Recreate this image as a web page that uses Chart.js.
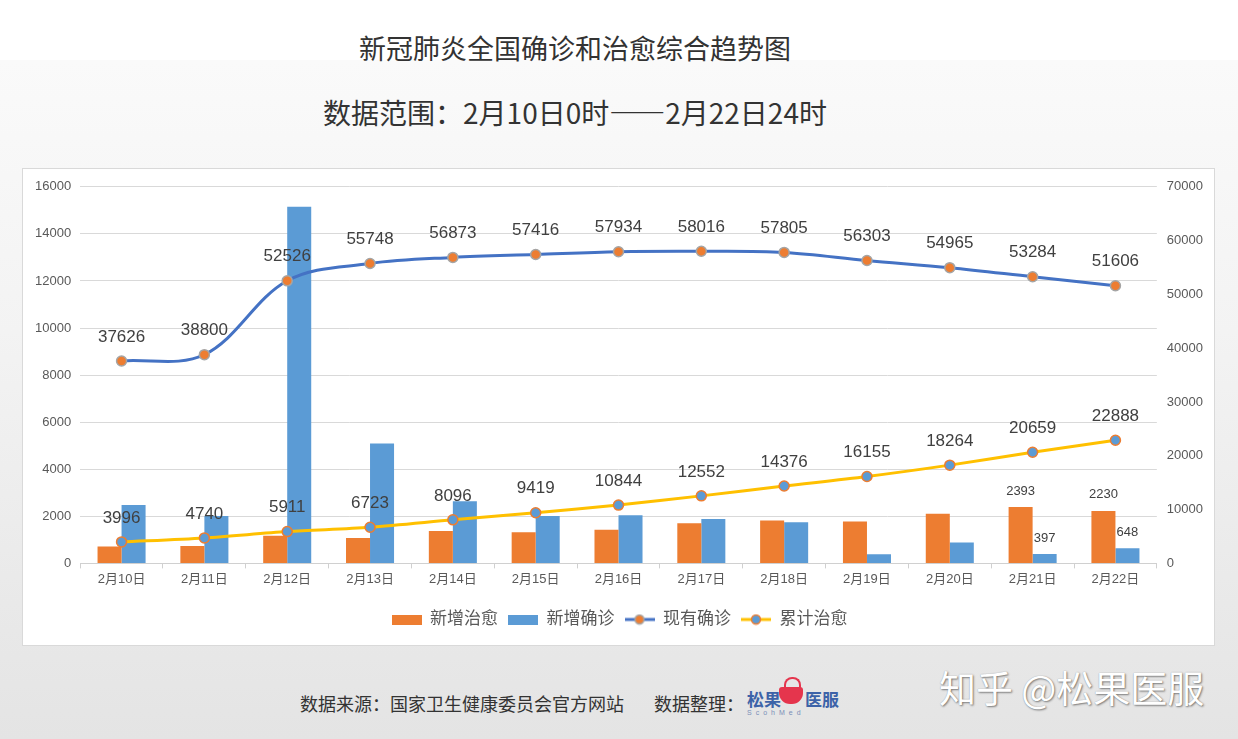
<!DOCTYPE html>
<html lang="zh-CN">
<head>
<meta charset="utf-8">
<title>新冠肺炎全国确诊和治愈综合趋势图</title>
<script src="https://cdn.jsdelivr.net/npm/chart.js@4.4.1/dist/chart.umd.min.js"></script>
<style>
  html, body { margin: 0; padding: 0; }
  body {
    width: 1238px; height: 739px; overflow: hidden; position: relative;
    background: #fff;
    font-family: "Noto Sans CJK SC", "Liberation Sans", sans-serif;
  }
  .bg {
    position: absolute; left: 0; top: 60px; width: 1238px; height: 679px;
    background: linear-gradient(#fafafa, #f3f3f3 40%, #e4e4e4);
  }
  .title {
    position: absolute; left: 0; width: 1150px; text-align: center; color: #333;
    white-space: nowrap;
  }
  #t1 { top: 28px; font-size: 27px; }
  #t2 { top: 92px; font-size: 28px; }
  .card {
    position: absolute; left: 22px; top: 168px; width: 1191px; height: 476px;
    background: #fff; border: 1px solid #d9d9d9;
  }
  #chart { position: absolute; left: 0; top: 0; }
  .source {
    position: absolute; left: 300px; top: 690px; font-size: 18px; color: #333; white-space: nowrap;
  }
  .source .gap { display: inline-block; width: 30px; }
  .logo {
    position: absolute; left: 747px; top: 676px; width: 96px; height: 44px;
  }
  .logo .name { position: absolute; top: 10px; font-size: 17px; font-weight: bold; color: #3d63a8; }
  .logo .pot {
    position: absolute; left: 32px; top: 11px; width: 24px; height: 17px;
    background: #e5354d; border-radius: 3px 3px 11px 11px;
  }
  .logo .lid {
    position: absolute; left: 37px; top: 1px; width: 13px; height: 9px;
    border: 2px solid #e5354d; border-bottom: none; border-radius: 8px 8px 0 0;
  }
  .logo .sub {
    position: absolute; left: 0; top: 33px; font-size: 7px; letter-spacing: 4px; color: #7a8fb8;
    font-family: "Liberation Sans", sans-serif;
  }
  .watermark {
    position: absolute; left: 939px; top: 660px; font-size: 37px; color: #fff; white-space: nowrap;
    text-shadow: 1px 1px 2px rgba(0,0,0,0.45), 0 0 1px rgba(0,0,0,0.3);
  }
</style>
</head>
<body>
<div class="bg"></div>
<div class="title" id="t1">新冠肺炎全国确诊和治愈综合趋势图</div>
<div class="title" id="t2">数据范围：2月10日0时——2月22日24时</div>
<div class="card"><canvas id="chart" width="1191" height="476"></canvas></div>
<div class="source">数据来源：国家卫生健康委员会官方网站<span class="gap"></span>数据整理：</div>
<div class="logo">
  <span class="name" style="left:0">松果</span>
  <div class="lid"></div>
  <div class="pot"></div>
  <span class="name" style="left:58px">医服</span>
  <span class="sub">ScohMed</span>
</div>
<div class="watermark">知乎 @松果医服</div>

<script>
// 数据（2月10日 - 2月22日）
const days = ["2月10日", "2月11日", "2月12日", "2月13日", "2月14日", "2月15日", "2月16日",
  "2月17日", "2月18日", "2月19日", "2月20日", "2月21日", "2月22日"];
const newCured = [716, 744, 1171, 1081, 1373, 1323, 1425, 1701, 1824, 1779, 2109, 2393, 2230];
const newConfirmed = [2478, 2015, 15152, 5090, 2641, 2009, 2048, 1886, 1749, 394, 889, 397, 648];
const currentConfirmed = [37626, 38800, 52526, 55748, 56873, 57416, 57934, 58016, 57805, 56303, 54965, 53284, 51606];
const totalCured = [3996, 4740, 5911, 6723, 8096, 9419, 10844, 12552, 14376, 16155, 18264, 20659, 22888];

// 只有这几天的柱子显示数值
const barLabelDays = ["2月21日", "2月22日"];

const ORANGE = "#ED7D31";
const BLUE = "#5B9BD5";
const LINE_BLUE = "#4472C4";
const YELLOW = "#FFC000";
const GREY = "#A5A5A5";
const FONT = "'Liberation Sans', 'Noto Sans CJK SC', sans-serif";

// 图例小图标
function rectIcon(color) {
  const c = document.createElement("canvas");
  c.width = 30; c.height = 10;
  const g = c.getContext("2d");
  g.fillStyle = color;
  g.fillRect(0, 0, 30, 10);
  return c;
}
function lineIcon(color, dotFill, dotStroke) {
  const c = document.createElement("canvas");
  c.width = 30; c.height = 12;
  const g = c.getContext("2d");
  g.strokeStyle = color;
  g.lineWidth = 3;
  g.beginPath(); g.moveTo(0, 6); g.lineTo(30, 6); g.stroke();
  g.fillStyle = dotFill;
  g.strokeStyle = dotStroke;
  g.lineWidth = 1.5;
  g.beginPath(); g.arc(15, 6, 4.5, 0, Math.PI * 2); g.fill(); g.stroke();
  return c;
}
// 按 datasetIndex 对应
const legendIcons = [
  rectIcon(ORANGE),
  rectIcon(BLUE),
  lineIcon(LINE_BLUE, ORANGE, GREY),
  lineIcon(YELLOW, BLUE, ORANGE),
];

// 数据标签
const valueLabels = {
  id: "valueLabels",
  afterDatasetsDraw(chart) {
    const ctx = chart.ctx;
    ctx.save();
    ctx.fillStyle = "#404040";
    ctx.textAlign = "center";
    ctx.textBaseline = "middle";
    chart.data.datasets.forEach((ds, i) => {
      const meta = chart.getDatasetMeta(i);
      meta.data.forEach((el, j) => {
        if (ds.type === "line") {
          ctx.font = "17px " + FONT;
          ctx.fillText(String(ds.data[j]), el.x, el.y - 24);
        } else if (barLabelDays.includes(days[j])) {
          ctx.font = "13px " + FONT;
          ctx.fillText(String(ds.data[j]), el.x, el.y - 16);
        }
      });
    });
    ctx.restore();
  },
};

const plainTick = (v) => String(v);

new Chart(document.getElementById("chart").getContext("2d"), {
  data: {
    labels: days,
    datasets: [
      {
        type: "bar", label: "新增治愈", data: newCured, yAxisID: "y",
        backgroundColor: ORANGE, barPercentage: 1, categoryPercentage: 0.58, order: 2,
      },
      {
        type: "bar", label: "新增确诊", data: newConfirmed, yAxisID: "y",
        backgroundColor: BLUE, barPercentage: 1, categoryPercentage: 0.58, order: 2,
      },
      {
        type: "line", label: "现有确诊", data: currentConfirmed, yAxisID: "y2",
        borderColor: LINE_BLUE, borderWidth: 3, tension: 0.35,
        pointRadius: 5, pointBackgroundColor: ORANGE, pointBorderColor: GREY, pointBorderWidth: 1.5,
        order: 1,
      },
      {
        type: "line", label: "累计治愈", data: totalCured, yAxisID: "y2",
        borderColor: YELLOW, borderWidth: 3, tension: 0.3,
        pointRadius: 5, pointBackgroundColor: BLUE, pointBorderColor: ORANGE, pointBorderWidth: 1.5,
        order: 0,
      },
    ],
  },
  options: {
    responsive: false,
    animation: false,
    layout: { padding: { left: 3, right: 1, top: 17, bottom: 7 } },
    plugins: {
      tooltip: { enabled: false },
      legend: {
        position: "bottom",
        labels: {
          usePointStyle: true,
          pointStyleWidth: 30,
          padding: 10,
          color: "#595959",
          font: { size: 17, family: FONT },
          generateLabels(chart) {
            return Chart.defaults.plugins.legend.labels.generateLabels(chart).map((l) => {
              l.pointStyle = legendIcons[l.datasetIndex];
              return l;
            });
          },
          sort: (a, b) => a.datasetIndex - b.datasetIndex,
        },
      },
    },
    scales: {
      x: {
        grid: { display: true, drawOnChartArea: false, tickLength: 5, color: "#d0d0d0" },
        border: { color: "#d0d0d0" },
        ticks: { color: "#595959", font: { size: 13, family: FONT }, padding: 3, maxRotation: 0 },
        afterFit(axis) { axis.height += 11; },
      },
      y: {
        position: "left", min: 0, max: 16000,
        ticks: { stepSize: 2000, color: "#595959", font: { size: 13, family: FONT }, padding: 9, callback: plainTick },
        grid: { color: "#d9d9d9", drawTicks: false },
        border: { display: false },
      },
      y2: {
        position: "right", min: 0, max: 70000,
        ticks: { stepSize: 10000, color: "#595959", font: { size: 13, family: FONT }, padding: 10, callback: plainTick },
        grid: { drawOnChartArea: false, drawTicks: false },
        border: { display: false },
      },
    },
  },
  plugins: [valueLabels],
});
</script>
</body>
</html>
